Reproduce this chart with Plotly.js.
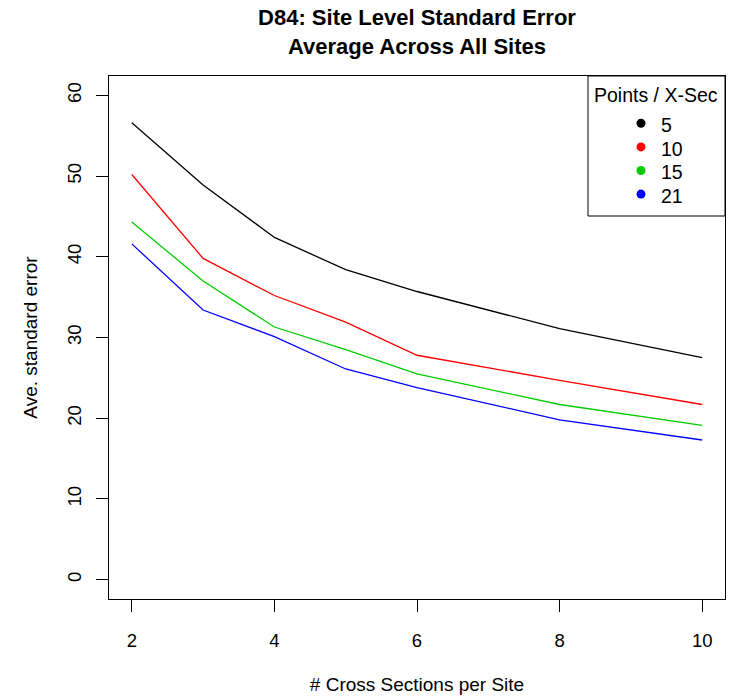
<!DOCTYPE html>
<html>
<head>
<meta charset="utf-8">
<script src="https://cdn.plot.ly/plotly-3.0.1.min.js"></script>
<style>
  html, body { margin: 0; padding: 0; background: #ffffff; }
  #chart { width: 739px; height: 697px; }
</style>
</head>
<body>
<div id="chart"></div>
<script>
// Data
const crossSections = [2, 3, 4, 5, 6, 8, 10];
const pointsPerXSec = ["5", "10", "15", "21"];
const se5  = [56.6, 48.9, 42.4, 38.4, 35.7, 31.1, 27.5];
const se10 = [50.2, 39.8, 35.2, 31.9, 27.8, 24.7, 21.7];
const se15 = [44.3, 37.0, 31.3, 28.5, 25.5, 21.7, 19.1];
const se21 = [41.6, 33.4, 30.1, 26.1, 23.8, 19.8, 17.3];
const seriesValues = [se5, se10, se15, se21];
const seriesColors = ["#000000", "#FF0000", "#00CD00", "#0000FF"];
const xTicks = [2, 4, 6, 8, 10];
const yTicks = [0, 10, 20, 30, 40, 50, 60];

const FONT = "Liberation Sans, Arial, Helvetica, sans-serif";

const traces = seriesValues.map((vals, i) => ({
  x: crossSections,
  y: vals,
  type: "scatter",
  mode: "lines",
  name: pointsPerXSec[i],
  line: { color: seriesColors[i], width: 1.3 },
  showlegend: false,
  hoverinfo: "x+y+name"
}));

// Manual R-style legend (box, title, dots, labels) in paper coordinates
const legX0 = 0.7776, legX1 = 1.0, legY0 = 0.7323, legY1 = 1.0;
const dotX = 0.8636, textX = 0.8929;
const itemY0 = 0.9096, itemStep = 23.6 / 523;

const shapes = [{
  type: "rect", xref: "paper", yref: "paper",
  x0: legX0, x1: legX1, y0: legY0, y1: legY1,
  line: { color: "#000000", width: 1 }, fillcolor: "rgba(0,0,0,0)"
}];
const annotations = [{
  xref: "paper", yref: "paper", x: 0.888, y: 0.9637,
  xanchor: "center", yanchor: "middle", showarrow: false,
  text: "Points / X-Sec", font: { family: FONT, size: 19.5, color: "#000000" }
}];
pointsPerXSec.forEach((lab, i) => {
  const yy = itemY0 - i * itemStep;
  shapes.push({
    type: "circle", xref: "paper", yref: "paper",
    xsizemode: "pixel", ysizemode: "pixel",
    xanchor: dotX, yanchor: yy, x0: -4.5, x1: 4.5, y0: -4.5, y1: 4.5,
    fillcolor: seriesColors[i], line: { color: seriesColors[i], width: 0 }
  });
  annotations.push({
    xref: "paper", yref: "paper", x: textX, y: yy - 2 / 523,
    xanchor: "left", yanchor: "middle", showarrow: false,
    text: lab, font: { family: FONT, size: 19.5, color: "#000000" }
  });
});

const layout = {
  width: 739, height: 697,
  paper_bgcolor: "#ffffff", plot_bgcolor: "#ffffff",
  margin: { l: 109, r: 14, t: 76, b: 98, pad: 0 },
  font: { family: FONT, color: "#000000" },
  title: {
    text: "<b>D84: Site Level Standard Error<br>Average Across All Sites</b>",
    font: { family: FONT, size: 22, color: "#000000" },
    xref: "paper", x: 0.5, xanchor: "center",
    yref: "container", y: 1 - 25 / 697, yanchor: "middle"
  },
  xaxis: {
    range: [1.68, 10.32],
    tickvals: xTicks, ticktext: xTicks.map(String),
    ticks: "outside", ticklen: 12, tickcolor: "#000000", tickwidth: 1,
    ticklabelstandoff: 13,
    showgrid: false, zeroline: false,
    showline: true, mirror: true, linecolor: "#000000", linewidth: 1,
    tickfont: { family: FONT, size: 18.5, color: "#000000" },
    title: { text: "# Cross Sections per Site", font: { family: FONT, size: 19, color: "#000000" }, standoff: 27 }
  },
  yaxis: {
    range: [-2.4, 62.4],
    tickvals: yTicks, ticktext: yTicks.map(String),
    tickangle: -90,
    ticks: "outside", ticklen: 12, tickcolor: "#000000", tickwidth: 1,
    ticklabelstandoff: 8,
    showgrid: false, zeroline: false,
    showline: true, mirror: true, linecolor: "#000000", linewidth: 1,
    tickfont: { family: FONT, size: 18.5, color: "#000000" },
    title: { text: "Ave. standard error", font: { family: FONT, size: 19, color: "#000000" }, standoff: 20 }
  },
  shapes: shapes,
  annotations: annotations,
  showlegend: false
};

Plotly.newPlot("chart", traces, layout, { displayModeBar: false, staticPlot: true });
</script>
</body>
</html>
